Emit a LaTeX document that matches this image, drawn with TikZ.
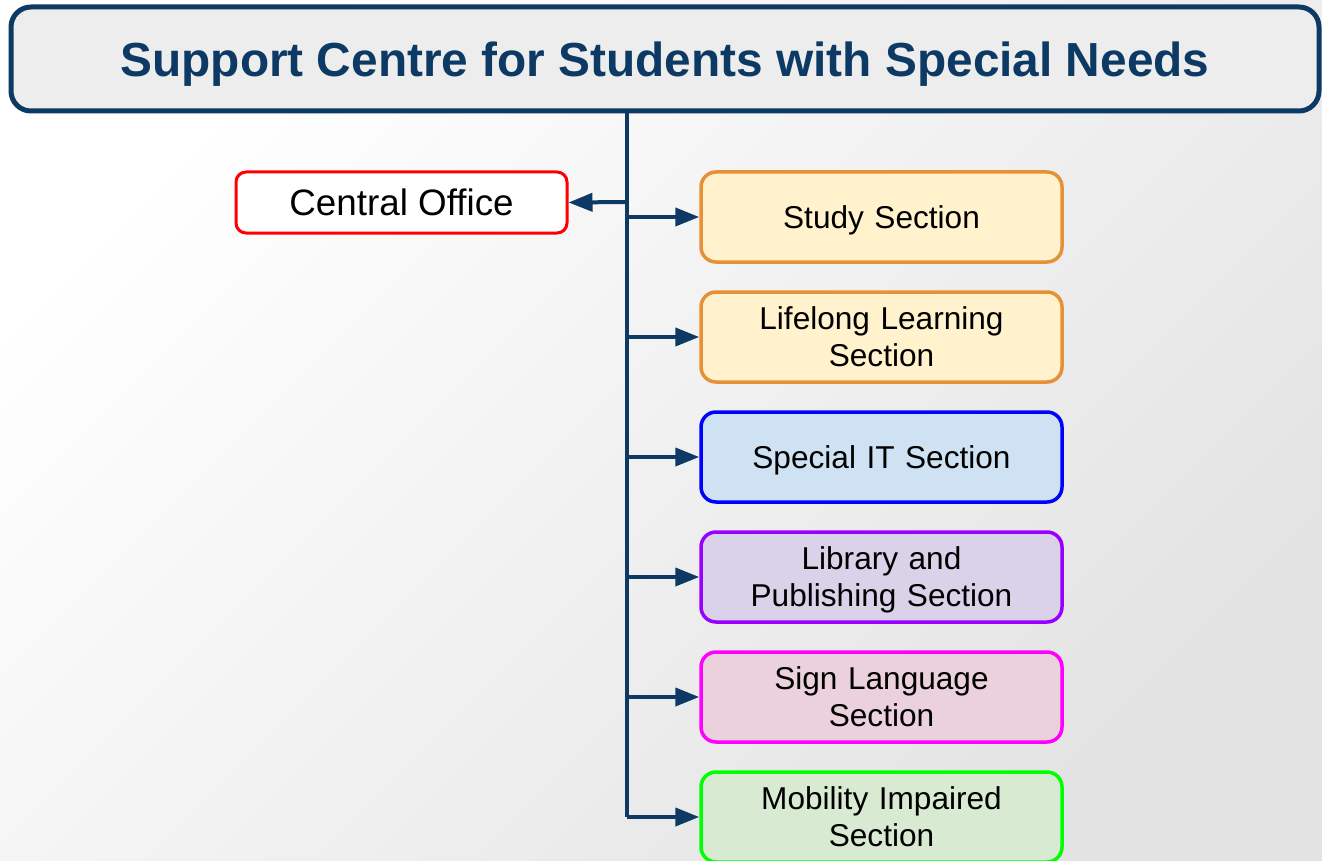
\documentclass[tikz,border=0pt]{standalone}
\usepackage{fontspec}
\setmainfont{Liberation Sans}
\usepackage{xcolor}
\usetikzlibrary{arrows.meta,positioning,calc}

\definecolor{navy}{RGB}{12,58,100}
\definecolor{headfill}{RGB}{237,237,237}
\definecolor{orangeline}{RGB}{230,145,56}
\definecolor{orangefill}{RGB}{255,242,204}
\definecolor{blueline}{RGB}{0,0,255}
\definecolor{bluefill}{RGB}{207,226,243}
\definecolor{purpleline}{RGB}{153,0,255}
\definecolor{purplefill}{RGB}{217,210,233}
\definecolor{pinkline}{RGB}{255,0,255}
\definecolor{pinkfill}{RGB}{234,209,220}
\definecolor{greenline}{RGB}{0,255,0}
\definecolor{greenfill}{RGB}{217,234,211}

\tikzset{
    headbox/.style={draw=navy, line width=5pt, fill=headfill, rounded corners=20pt,
        minimum width=1308pt, minimum height=104pt, inner sep=0pt, text=navy,
        text depth=0pt, font=\fontsize{47.8}{56}\selectfont\bfseries},
    officebox/.style={draw=red, line width=3pt, fill=white, rounded corners=10pt,
        minimum width=331pt, minimum height=61pt, inner sep=0pt,
        font=\fontsize{36.8}{42}\selectfont},
    section/.style={rounded corners=15pt, line width=3.5pt, minimum width=361pt,
        minimum height=90pt, text width=340pt, align=center, inner sep=0pt,
        font=\fontsize{31.6}{37}\selectfont},
    link/.style={draw=navy, line width=4pt},
    arr/.style={link, -{Triangle[length=24pt,width=18pt]}},
}

\begin{document}
\begin{tikzpicture}[x=1pt,y=-1pt]
    % Background
    \shade[top color=white, bottom color=black!11, shading angle=45] (0,0) rectangle (1322,861);
    \useasboundingbox (0,0) rectangle (1322,861);

    % Heading
    \node[headbox] (head) at (665,59) {Support Centre for Students with Special Needs};

    % Central office
    \node[officebox] (office) at (401.5,202.5) {Central Office};
    \coordinate (t0) at (627,202);

    % Sections (\td = depth below the first line)
    \foreach \i/\y/\td/\bd/\bg/\txt in {1/217/0pt/orangeline/orangefill/{Study Section},
                                        2/337/37pt/orangeline/orangefill/{Lifelong Learning\\Section},
                                        3/457/0pt/blueline/bluefill/{Special IT Section},
                                        4/577/37pt/purpleline/purplefill/{Library and\\Publishing Section},
                                        5/697/37pt/pinkline/pinkfill/{Sign Language\\Section},
                                        6/817/37pt/greenline/greenfill/{Mobility Impaired\\Section}}
    {
        \node[section, draw=\bd, fill=\bg, text depth=\td] (sec\i) at (881.5,\y) {\txt};
        \coordinate (t\i) at (627,\y);
    }

    % Trunk and arrows
    \draw[link] (head.south -| t1) -- (t6);
    \draw[arr] (t0) -- (office.east);
    \foreach \i in {1,...,6}
        \draw[arr] (t\i) -- (sec\i.west);
\end{tikzpicture}
\end{document}
